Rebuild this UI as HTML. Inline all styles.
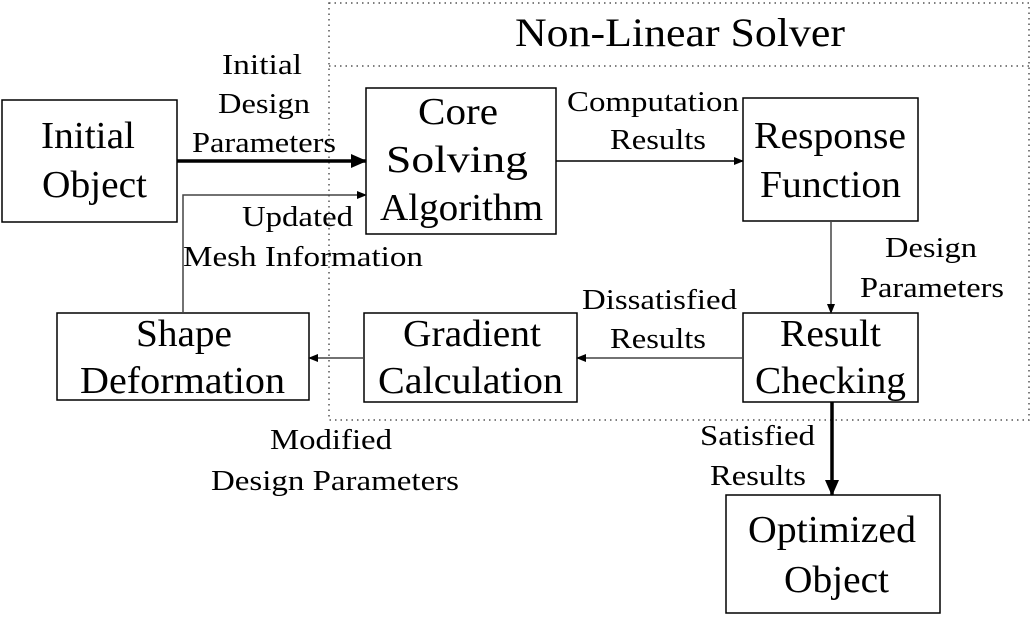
<!DOCTYPE html>
<html><head><style>
body{margin:0;background:#fff;}
svg{display:block;font-family:"Liberation Serif",serif;}
</style></head><body>
<svg width="1032" height="622" viewBox="0 0 1032 622">
<defs>
<marker id="a" markerWidth="10" markerHeight="10" refX="9" refY="5" orient="auto" markerUnits="userSpaceOnUse"><path d="M0,1 L10,5 L0,9 Z" fill="#000"/></marker>
<marker id="b" markerWidth="16" markerHeight="14" refX="15" refY="7" orient="auto" markerUnits="userSpaceOnUse"><path d="M0,0 L16,7 L0,14 Z" fill="#000"/></marker>
</defs>
<g fill="none" stroke="#555" stroke-width="1.5" stroke-dasharray="1.5,4">
<path d="M329,3 H1029 V420 H329 Z"/>
<path d="M329,66 H1029"/>
</g>
<text x="515" y="46" font-size="40" textLength="330" lengthAdjust="spacingAndGlyphs">Non-Linear Solver</text>
<g fill="#fff" stroke="#000" stroke-width="1.5">
<rect x="2" y="100" width="175" height="122"/>
<rect x="366" y="88" width="190" height="146"/>
<rect x="743" y="98" width="175" height="123"/>
<rect x="743" y="313" width="175" height="89"/>
<rect x="364" y="313" width="213" height="89"/>
<rect x="57" y="313" width="252" height="87"/>
<rect x="726" y="495" width="214" height="118"/>
</g>
<g font-size="38" lengthAdjust="spacingAndGlyphs">
<text x="41" y="148" textLength="94" lengthAdjust="spacingAndGlyphs">Initial</text><text x="42" y="197" textLength="105" lengthAdjust="spacingAndGlyphs">Object</text>
<text x="418" y="124" textLength="80" lengthAdjust="spacingAndGlyphs">Core</text><text x="386" y="172" textLength="142" lengthAdjust="spacingAndGlyphs">Solving</text><text x="380" y="220" textLength="163" lengthAdjust="spacingAndGlyphs">Algorithm</text>
<text x="754" y="148" textLength="152" lengthAdjust="spacingAndGlyphs">Response</text><text x="760" y="197" textLength="141" lengthAdjust="spacingAndGlyphs">Function</text>
<text x="780" y="346" textLength="101" lengthAdjust="spacingAndGlyphs">Result</text><text x="755" y="393" textLength="151" lengthAdjust="spacingAndGlyphs">Checking</text>
<text x="403" y="346" textLength="138" lengthAdjust="spacingAndGlyphs">Gradient</text><text x="378" y="393" textLength="185" lengthAdjust="spacingAndGlyphs">Calculation</text>
<text x="136" y="346" textLength="96" lengthAdjust="spacingAndGlyphs">Shape</text><text x="80" y="393" textLength="205" lengthAdjust="spacingAndGlyphs">Deformation</text>
<text x="748" y="542" textLength="168" lengthAdjust="spacingAndGlyphs">Optimized</text><text x="784" y="592" textLength="105" lengthAdjust="spacingAndGlyphs">Object</text>
</g>
<g stroke="#000" fill="none">
<path d="M177,161 H366" stroke-width="3.5" marker-end="url(#b)"/>
<path d="M183,313 V195 H366" stroke-width="1.5" stroke="#444" marker-end="url(#a)"/>
<path d="M556,161 H743" stroke-width="1.5" marker-end="url(#a)"/>
<path d="M831,221 V313" stroke-width="1.5" stroke="#444" marker-end="url(#a)"/>
<path d="M743,358 H577" stroke-width="1.5" stroke="#444" marker-end="url(#a)"/>
<path d="M364,358 H309" stroke-width="1.5" stroke="#444" marker-end="url(#a)"/>
<path d="M832,402 V495" stroke-width="3.5" marker-end="url(#b)"/>
</g>
<g font-size="28">
<text x="222" y="74" textLength="80" lengthAdjust="spacingAndGlyphs">Initial</text><text x="218" y="113" textLength="92" lengthAdjust="spacingAndGlyphs">Design</text><text x="192" y="152" textLength="144" lengthAdjust="spacingAndGlyphs">Parameters</text>
<text x="567" y="111" textLength="172" lengthAdjust="spacingAndGlyphs">Computation</text><text x="610" y="149" textLength="96" lengthAdjust="spacingAndGlyphs">Results</text>
<text x="242" y="226" textLength="111" lengthAdjust="spacingAndGlyphs">Updated</text><text x="183" y="266" textLength="240" lengthAdjust="spacingAndGlyphs">Mesh Information</text>
<text x="885" y="257" textLength="92" lengthAdjust="spacingAndGlyphs">Design</text><text x="860" y="297" textLength="144" lengthAdjust="spacingAndGlyphs">Parameters</text>
<text x="582" y="309" textLength="155" lengthAdjust="spacingAndGlyphs">Dissatisfied</text><text x="610" y="348" textLength="96" lengthAdjust="spacingAndGlyphs">Results</text>
<text x="700" y="445" textLength="115" lengthAdjust="spacingAndGlyphs">Satisfied</text><text x="710" y="485" textLength="96" lengthAdjust="spacingAndGlyphs">Results</text>
<text x="270" y="449" textLength="122" lengthAdjust="spacingAndGlyphs">Modified</text><text x="211" y="490" textLength="248" lengthAdjust="spacingAndGlyphs">Design Parameters</text>
</g>
</svg>
</body></html>
